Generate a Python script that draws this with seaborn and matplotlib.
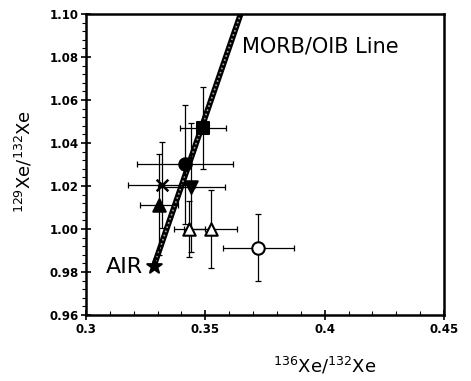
import numpy as np
import pandas as pd
import seaborn as sns
import matplotlib.pyplot as plt
from matplotlib.ticker import MultipleLocator, FormatStrFormatter

# данные
names = ['AIR', 'square', 'circle', 'cross', 'tri_down', 'tri_up', 'tri_open1', 'tri_open2', 'circle_open']
xe136 = [0.3285, 0.3490, 0.3415, 0.3317, 0.3442, 0.3306, 0.3432, 0.3522, 0.3722]
xe129 = [0.9830, 1.0470, 1.0300, 1.0205, 1.0195, 1.0112, 1.0000, 1.0000, 0.9913]
xerr = [0.0, 0.0095, 0.0200, 0.0140, 0.0140, 0.0080, 0.0065, 0.0110, 0.0150]
yerr = [0.0, 0.0190, 0.0275, 0.0200, 0.0300, 0.0235, 0.0130, 0.0180, 0.0157]
markers = ['*', 's', 'o', 'x', 'v', '^', '^', '^', 'o']
filled = [True, True, True, True, True, True, False, False, False]

morb_x = [0.3285, 0.3648]
morb_y = [0.983, 1.10]

data = pd.DataFrame({'name': names, 'x': xe136, 'y': xe129, 'xerr': xerr, 'yerr': yerr})

sns.set_style('ticks')
plt.rcParams['font.family'] = ['DejaVu Sans']
plt.rcParams['text.color'] = 'black'
plt.rcParams['axes.labelcolor'] = 'black'
plt.rcParams['xtick.color'] = 'black'
plt.rcParams['ytick.color'] = 'black'

fig = plt.figure(figsize=(4.71, 3.81), dpi=100)
ax = fig.add_axes([0.1826, 0.1732, 0.7601, 0.7901])

# линия MORB/OIB
sns.lineplot(x=morb_x, y=morb_y, ax=ax, color='black', linewidth=4.2, zorder=2)
ax.plot(morb_x, morb_y, color='0.65', linewidth=1.2, linestyle=':', zorder=2.1)

# погрешности
for i, row in data.iterrows():
    if row['xerr'] > 0:
        ax.errorbar(row['x'], row['y'], xerr=row['xerr'], yerr=row['yerr'], fmt='none',
                    ecolor='black', elinewidth=0.9, capsize=2.5, capthick=0.9, zorder=3)

# точки
for i, row in data.iterrows():
    m = markers[i]
    size = 120 if m == '*' else 80
    if m == 'x':
        sns.scatterplot(x=[row['x']], y=[row['y']], marker='x', s=70, color='black',
                        linewidth=1.8, ax=ax, zorder=4)
    else:
        face = 'black' if filled[i] else 'white'
        sns.scatterplot(x=[row['x']], y=[row['y']], marker=m, s=size, color=face,
                        edgecolor='black', linewidth=1.5, ax=ax, zorder=4)

ax.text(0.3238, 0.9825, 'AIR', fontsize=16, ha='right', va='center')
ax.text(0.3653, 1.085, 'MORB/OIB Line', fontsize=15, ha='left', va='center')

ax.set_xlim(0.3, 0.45)
ax.set_ylim(0.96, 1.10)
ax.xaxis.set_major_locator(MultipleLocator(0.05))
ax.xaxis.set_minor_locator(MultipleLocator(0.01))
ax.yaxis.set_major_locator(MultipleLocator(0.02))
ax.yaxis.set_minor_locator(MultipleLocator(0.004))
ax.xaxis.set_major_formatter(FormatStrFormatter('%g'))
ax.yaxis.set_major_formatter(FormatStrFormatter('%.2f'))
ax.tick_params(axis='both', which='major', direction='inout', length=7, width=1.2,
               labelsize=8.5, pad=2)
ax.tick_params(axis='x', which='minor', direction='in', length=3, width=0.8)
ax.tick_params(axis='y', which='minor', direction='out', length=3, width=0.8)
for lab in ax.get_xticklabels() + ax.get_yticklabels():
    lab.set_fontweight('bold')

for sp in ax.spines.values():
    sp.set_linewidth(1.8)
    sp.set_color('black')

ax.set_xlabel(r'$^{136}$Xe/$^{132}$Xe', fontsize=13)
ax.set_ylabel(r'$^{129}$Xe/$^{132}$Xe', fontsize=13)
ax.xaxis.set_label_coords(0.668, -0.135)
ax.yaxis.set_label_coords(-0.145, 0.51)

plt.savefig('out.png', dpi=100)
